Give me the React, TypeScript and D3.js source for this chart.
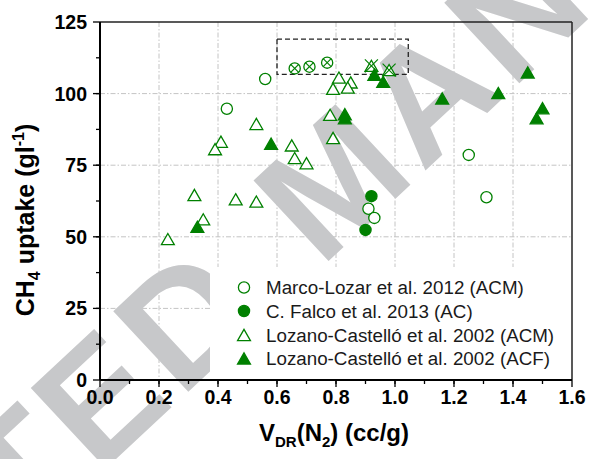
import React from "react";
import * as d3 from "d3";

const xTicks = [0, 0.2, 0.4, 0.6, 0.8, 1.0, 1.2, 1.4, 1.6];
const yTicks = [0, 25, 50, 75, 100, 125];

// Marco-Lozar et al. 2012 (ACM) - open circles
const marcoX = [0.56, 0.43, 1.25, 1.31, 0.91, 0.93];
const marcoY = [105.1, 94.7, 78.6, 63.8, 59.8, 56.6];
// highlighted (crossed) circles
const marcoHiX = [0.66, 0.71, 0.77];
const marcoHiY = [108.8, 109.4, 110.8];

// C. Falco et al. 2013 (AC) - filled circles
const falcoX = [0.92, 0.90];
const falcoY = [64.2, 52.4];

// Lozano-Castelló et al. 2002 (ACM) - open triangles
const lcAcmX = [0.53, 0.41, 0.39, 0.65, 0.66, 0.70, 0.81, 0.79, 0.85, 0.84, 0.78, 0.79, 0.32, 0.46, 0.53, 0.35, 0.23];
const lcAcmY = [89.4, 83.2, 80.6, 81.9, 77.5, 75.7, 105.6, 101.7, 103.9, 102.1, 92.6, 84.5, 64.6, 63.1, 62.3, 56.1, 49.2];
// highlighted (crossed) triangles
const lcHiX = [0.92, 0.98];
const lcHiY = [109.7, 108.2];

// Lozano-Castelló et al. 2002 (ACF) - filled triangles
const lcAcfX = [0.58, 0.83, 0.83, 0.93, 0.96, 1.16, 1.35, 1.45, 1.50, 1.48, 0.33];
const lcAcfY = [82.5, 92.8, 91.4, 106.6, 104.1, 98.3, 100.2, 107.4, 94.9, 91.4, 53.5];

// highlighted region
const boxX = [0.6, 1.045];
const boxY = [106.7, 119];

const legendLabels = [
  "Marco-Lozar et al. 2012 (ACM)",
  "C. Falco et al. 2013 (AC)",
  "Lozano-Castelló et al. 2002 (ACM)",
  "Lozano-Castelló et al. 2002 (ACF)",
];

const GREEN = "#008000";
const W = 590;
const H = 459;
const M = { left: 100, right: 572, top: 22, bottom: 380 };

export default function App() {
  const x = d3.scaleLinear().domain([0, 1.6]).range([M.left, M.right]);
  const y = d3.scaleLinear().domain([0, 125]).range([M.bottom, M.top]);

  const triSize = 72;
  const triPath = d3.symbol(d3.symbolTriangle, triSize)() as string;
  const triH = Math.sqrt((4 * triSize) / Math.sqrt(3)) * (Math.sqrt(3) / 2);
  const triOff = triH / 6;
  const r = 5.6;

  const circle = (cx: number, cy: number, filled: boolean, key: string) => (
    <circle key={key} cx={cx} cy={cy} r={r} fill={filled ? GREEN : "white"} stroke={GREEN} strokeWidth={1.3} />
  );
  const tri = (cx: number, cy: number, filled: boolean, key: string) => (
    <path key={key} d={triPath} transform={`translate(${cx},${cy + triOff})`} fill={filled ? GREEN : "white"} stroke={GREEN} strokeWidth={1.3} strokeLinejoin="miter" />
  );
  const cross = (cx: number, cy: number, s: number, key: string) => (
    <g key={key} stroke={GREEN} strokeWidth={1.2}>
      <line x1={cx - s} y1={cy - s} x2={cx + s} y2={cy + s} />
      <line x1={cx - s} y1={cy + s} x2={cx + s} y2={cy - s} />
    </g>
  );

  const xMinor = d3.range(0, 16).map((i) => i * 0.1 + 0.1).filter((v) => v < 1.6);
  const yMinor = d3.range(0, 10).map((i) => i * 12.5 + 12.5).filter((v) => v < 125);
  const gridX = xTicks.filter((t) => t > 0 && t < 1.6);
  const gridY = yTicks.filter((t) => t > 0 && t < 125);

  const legendY = [287.5, 311, 335, 358.5];
  const font = "'Liberation Sans', Arial, Helvetica, sans-serif";

  return (
    <div style={{ position: "absolute", left: 0, top: 0 }}>
      <svg width={W} height={H} style={{ display: "block", background: "white" }} fontFamily={font}>
        <rect x={0} y={0} width={W} height={H} fill="white" />
        {/* grid */}
        <g stroke="#c4c4c4" strokeWidth={1} strokeDasharray="5,2,1.5,2">
          {gridX.map((t) => (
            <line key={"gx" + t} x1={x(t)} x2={x(t)} y1={M.top} y2={M.bottom} />
          ))}
          {gridY.map((t) => (
            <line key={"gy" + t} x1={M.left} x2={M.right} y1={y(t)} y2={y(t)} />
          ))}
        </g>
        {/* watermark */}
        <g transform="translate(306,282) rotate(-43)" fill="#c7c8ca" fontWeight="bold" fontSize={160} fontFamily={font}>
          <text x={20} y={0} textAnchor="start" letterSpacing={6}>MANUSCRIPT</text>
          <text x={-50} y={0} textAnchor="end" letterSpacing={6}>ACCEPTED</text>
        </g>
        {/* legend background */}
        <rect x={210} y={267} width={361} height={110} fill="white" />
        {/* dashed highlight box */}
        <rect x={x(boxX[0])} y={y(boxY[1])} width={x(boxX[1]) - x(boxX[0])} height={y(boxY[0]) - y(boxY[1])} fill="none" stroke="#222" strokeWidth={1.3} strokeDasharray="5,3" />
        {/* data */}
        {lcAcmX.map((v, i) => tri(x(v), y(lcAcmY[i]), false, "la" + i))}
        {lcHiX.map((v, i) => (
          <g key={"lh" + i}>
            {tri(x(v), y(lcHiY[i]), false, "lht" + i)}
            {cross(x(v), y(lcHiY[i]), 6.5, "lhx" + i)}
          </g>
        ))}
        {marcoX.map((v, i) => circle(x(v), y(marcoY[i]), false, "m" + i))}
        {marcoHiX.map((v, i) => (
          <g key={"mh" + i}>
            {circle(x(v), y(marcoHiY[i]), false, "mhc" + i)}
            {cross(x(v), y(marcoHiY[i]), 4, "mhx" + i)}
          </g>
        ))}
        {falcoX.map((v, i) => circle(x(v), y(falcoY[i]), true, "f" + i))}
        {lcAcfX.map((v, i) => tri(x(v), y(lcAcfY[i]), true, "lf" + i))}
        {/* frame */}
        <line x1={M.left} x2={M.right} y1={M.top} y2={M.top} stroke="#222" strokeWidth={1.5} />
        <line x1={M.right} x2={M.right} y1={M.top} y2={M.bottom} stroke="#222" strokeWidth={1.5} />
        <line x1={M.left} x2={M.right} y1={M.bottom} y2={M.bottom} stroke="black" strokeWidth={2} />
        <line x1={M.left} x2={M.left} y1={M.top} y2={M.bottom} stroke="black" strokeWidth={2} />
        {/* ticks */}
        <g stroke="black" strokeWidth={1.3}>
          {xTicks.map((t) => (
            <line key={"xt" + t} x1={x(t)} x2={x(t)} y1={M.bottom} y2={M.bottom + 7} />
          ))}
          {xMinor.map((t) => (
            <line key={"xm" + t} x1={x(t)} x2={x(t)} y1={M.bottom} y2={M.bottom + 4} />
          ))}
          {yTicks.map((t) => (
            <line key={"yt" + t} x1={M.left - 7} x2={M.left} y1={y(t)} y2={y(t)} />
          ))}
          {yMinor.map((t) => (
            <line key={"ym" + t} x1={M.left - 4} x2={M.left} y1={y(t)} y2={y(t)} />
          ))}
        </g>
        {/* tick labels */}
        <g fontWeight="bold" fontSize={19.5} fill="black">
          {xTicks.map((t) => (
            <text key={"xl" + t} x={x(t)} y={404} textAnchor="middle">{t.toFixed(1)}</text>
          ))}
          {yTicks.map((t) => (
            <text key={"yl" + t} x={87} y={y(t) + 7} textAnchor="end">{t}</text>
          ))}
        </g>
        {/* axis titles */}
        <text x={334} y={441} textAnchor="middle" fontWeight="bold" fontSize={24} fill="black">
          V<tspan fontSize={15} dy={6}>DR</tspan><tspan dy={-6}>(N</tspan><tspan fontSize={15} dy={6}>2</tspan><tspan dy={-6}>) (cc/g)</tspan>
        </text>
        <text transform="translate(34,220) rotate(-90)" textAnchor="middle" fontWeight="bold" fontSize={25} fill="black">
          CH<tspan fontSize={16} dy={6}>4</tspan><tspan dy={-6}> uptake (gl</tspan><tspan fontSize={16} dy={-10}>-1</tspan><tspan dy={10}>)</tspan>
        </text>
        {/* legend */}
        <g fontSize={18.8} fill="#1a1a1a">
          {circle(244, legendY[0], false, "lg0")}
          {circle(244, legendY[1], true, "lg1")}
          {tri(244, legendY[2], false, "lg2")}
          {tri(244, legendY[3], true, "lg3")}
          {legendLabels.map((l, i) => (
            <text key={"lt" + i} x={266} y={legendY[i] + 6.6}>{l}</text>
          ))}
        </g>
      </svg>
    </div>
  );
}
